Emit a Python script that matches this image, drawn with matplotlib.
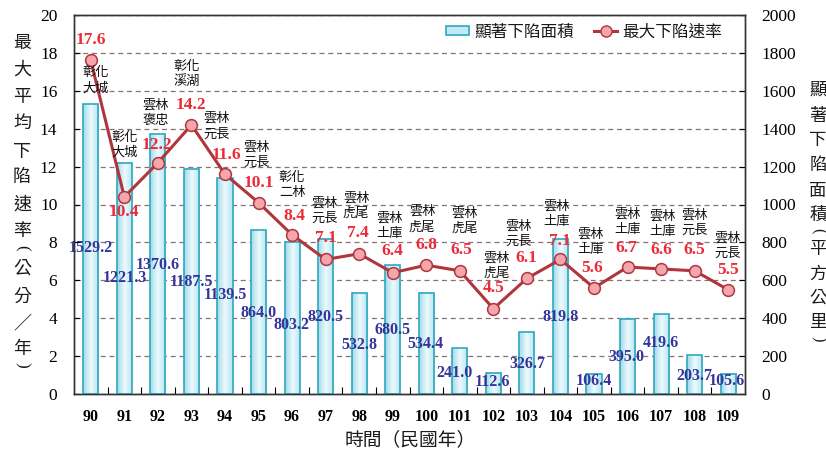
import numpy as np
import matplotlib
matplotlib.use("Agg")
import matplotlib.pyplot as plt
from matplotlib.patches import Patch
from matplotlib.lines import Line2D
from matplotlib.colors import LinearSegmentedColormap

# ---------------- data ----------------
years = ['90', '91', '92', '93', '94', '95', '96', '97', '98', '99',
         '100', '101', '102', '103', '104', '105', '106', '107', '108', '109']
area = [1529.2, 1221.3, 1370.6, 1187.5, 1139.5, 864.0, 803.2, 820.5, 532.8, 680.5,
        534.4, 241.0, 112.6, 326.7, 819.8, 106.4, 395.0, 419.6, 203.7, 105.6]
rate = [17.6, 10.4, 12.2, 14.2, 11.6, 10.1, 8.4, 7.1, 7.4, 6.4,
        6.8, 6.5, 4.5, 6.1, 7.1, 5.6, 6.7, 6.6, 6.5, 5.5]
places = ['彰化\n大城', '彰化\n大城', '雲林\n褒忠', '彰化\n溪湖', '雲林\n元長',
          '雲林\n元長', '彰化\n二林', '雲林\n元長', '雲林\n虎尾', '雲林\n土庫',
          '雲林\n虎尾', '雲林\n虎尾', '雲林\n虎尾', '雲林\n元長', '雲林\n土庫',
          '雲林\n土庫', '雲林\n土庫', '雲林\n土庫', '雲林\n元長', '雲林\n元長']
area_name = '顯著下陷面積'
rate_name = '最大下陷速率'
left_title = '最大平均下陷速率(公分／年)'
right_title = '顯著下陷面積(平方公里)'
x_title = '時間（民國年）'

# ---------------- layout (pixels / offsets) ----------------
val_off = [(0, 20), (0, -15), (-1, 18), (-1, 20), (1, 19), (0, 20), (2, 19), (0, 21),
           (-1, 21), (0, 22), (0, 20), (1, 21), (0, 21), (-1, 20), (-1, 18), (-2, 20),
           (-1, 19), (0, 19), (0, 21), (0, 20)]
place_off = [(5, -20), (0, 52), (-2, 50), (-5, 51), (-8, 48), (-2, 48), (0, 50), (-1, 49),
             (-3, 48), (-3, 47), (-4, 46), (5, 50), (3, 43), (-8, 45), (-4, 46), (-3, 46),
             (0, 45), (1, 45), (0, 48), (-1, 44)]
area_lab_y = [770, 610, 680, 590, 520, 430, 365, 405, 260, 340,
              265, 110, 63, 160, 405, 70, 195, 270, 95, 70]
area_lab_dx = [0, 0, 0, 0, 0, 0, -1, 0, 0, 0, -1, -5, -1, 0, 0, 0, -1, 0, 0, -1]
left_y = [43, 70, 97, 123, 152, 177, 205, 231, 248, 269, 297, 323, 349, 365]
right_y = [90, 116, 140, 165, 191, 215, 231, 249, 274, 298, 322, 339]

W, H = 826, 455
CJK = ['Noto Sans CJK TC', 'DejaVu Sans']
SERIF = ['Liberation Serif', 'DejaVu Serif']
RED = '#ec2a38'
BLUE = '#34349a'
LINE = '#b0353d'
MFC = '#f3a7ad'
EDGE = '#2ea8c0'
GRID = '#8c7070'

fig = plt.figure(figsize=(W / 100, H / 100), dpi=100)
fig.patch.set_facecolor('white')
ax = fig.add_axes([74 / W, (H - 394) / H, 671 / W, 379 / H])
ax2 = ax.twinx()
ax.set_zorder(ax2.get_zorder() + 1)
ax.patch.set_visible(False)

x = np.arange(len(years))

# bars on right axis
bars = ax2.bar(x, area, width=0.45, facecolor='none', edgecolor=EDGE, linewidth=1.2, zorder=3)
cmap = LinearSegmentedColormap.from_list('barg', ['#9edbe9', '#eefafd', '#b3e5f0'])
grad = np.linspace(0, 1, 64).reshape(1, -1)
for b in bars:
    x0, w, h = b.get_x(), b.get_width(), b.get_height()
    ax2.imshow(grad, extent=(x0, x0 + w, 0, h), aspect='auto', cmap=cmap, zorder=2,
               interpolation='bilinear')
ax2.set_ylim(0, 2000)
ax2.set_yticks(np.arange(0, 2001, 200))
ax2.yaxis.grid(True, linestyle=(0, (4, 3)), color=GRID, linewidth=0.9)
ax2.set_axisbelow(True)
ax2.tick_params(axis='y', direction='in', length=4, pad=12, labelsize=12.5)
for t in ax2.get_yticklabels():
    t.set_fontfamily(SERIF)

for i, v in enumerate(area):
    ax2.annotate(f'{v:.1f}', (x[i], area_lab_y[i]), xytext=(area_lab_dx[i], 0),
                 textcoords='offset pixels', ha='center', va='center', color=BLUE,
                 fontsize=11.5, fontweight='bold', family=SERIF, zorder=5)

# line on left axis
ax.plot(x, rate, color=LINE, linewidth=2.2, marker='o', markersize=8.5,
        markerfacecolor=MFC, markeredgecolor=LINE, markeredgewidth=1.1, zorder=4)
for i, v in enumerate(rate):
    ax.annotate(f'{v:.1f}', (x[i], v), xytext=val_off[i], textcoords='offset pixels',
                ha='center', va='center', color=RED, fontsize=12.5, fontweight='bold',
                family=SERIF, zorder=6)
    ax.annotate(places[i], (x[i], v), xytext=place_off[i], textcoords='offset pixels',
                ha='center', va='center', color='#111111', fontsize=9.5, family=CJK,
                linespacing=1.25, zorder=6)

ax.set_ylim(0, 20)
ax.set_yticks(np.arange(0, 21, 2))
ax.set_xlim(-0.5, len(years) - 0.5)
ax.set_xticks(x)
ax.set_xticklabels(years)
ax.set_xticks(np.arange(0.5, len(years) - 1, 1), minor=True)
ax.tick_params(axis='x', which='major', length=0, pad=11, labelsize=11.5)
ax.tick_params(axis='x', which='minor', direction='in', length=5, width=0.8)
ax.tick_params(axis='y', direction='in', length=4, pad=12, labelsize=12.5)
for t in ax.get_xticklabels():
    t.set_fontfamily(SERIF)
    t.set_fontweight('bold')
for t in ax.get_yticklabels():
    t.set_fontfamily(SERIF)
for a in (ax, ax2):
    for s in a.spines.values():
        s.set_color('#333333')
        s.set_linewidth(1.0)


# vertical axis titles, one character per row (brackets turned sideways)
def vertical_title(text, xpx, ys, size):
    for ch, yy in zip(text, ys):
        if ch in '()':
            fig.text(xpx / W, 1 - yy / H, ch, ha='center', va='center',
                     fontsize=size * 0.95, family=SERIF, color='#1a1a1a', rotation=-90)
        else:
            fig.text(xpx / W, 1 - yy / H, ch, ha='center', va='center', fontsize=size,
                     family=CJK, color='#1a1a1a')


vertical_title(left_title, 22, left_y, 13)
vertical_title(right_title, 818, right_y, 12.5)
fig.text(410 / W, 1 - 440 / H, x_title, ha='center', va='center', fontsize=13.5,
         family=CJK, color='#1a1a1a')

# legend
handles = [Patch(facecolor='#bfe9f3', edgecolor=EDGE, linewidth=1.2),
           Line2D([0], [0], color=LINE, linewidth=2.2, marker='o', markersize=8,
                  markerfacecolor=MFC, markeredgecolor=LINE)]
leg = ax.legend(handles, [area_name, rate_name], ncol=2, frameon=False,
                loc='center right', bbox_to_anchor=((722 - 74) / 671, (394 - 32) / 379),
                borderaxespad=0, borderpad=0, handlelength=1.4, handleheight=0.5,
                handletextpad=0.3, columnspacing=1.2,
                prop={'family': CJK, 'size': 12})
for t in leg.get_texts():
    t.set_color('#1a1a1a')

fig.savefig('out.png', dpi=100)
